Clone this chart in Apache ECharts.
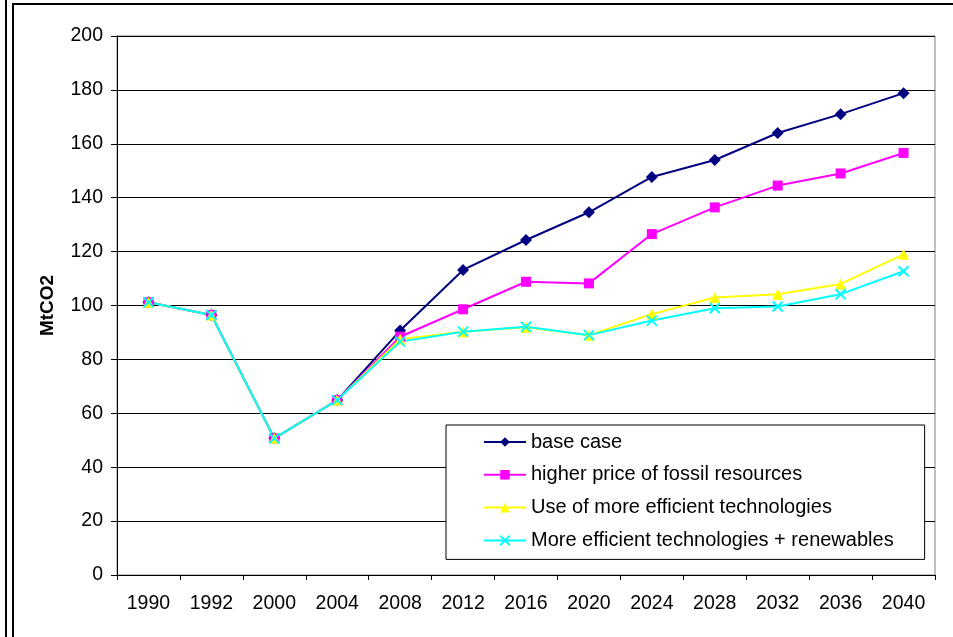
<!DOCTYPE html>
<html>
<head>
<meta charset="utf-8">
<style>
  html, body { margin: 0; padding: 0; background: #fff; }
  #chart { width: 953px; height: 637px; }
</style>
<script src="https://cdn.jsdelivr.net/npm/echarts@6/dist/echarts.min.js"></script>
</head>
<body>
<div id="chart"></div>
<script>
// Emission scenarios, MtCO2
const years = ['1990', '1992', '2000', '2004', '2008', '2012', '2016', '2020', '2024', '2028', '2032', '2036', '2040'];
const baseCase = [101.2, 96.5, 50.7, 64.9, 90.7, 113.2, 124.3, 134.6, 147.7, 154.0, 164.0, 171.0, 178.8];
const higherPrice = [101.2, 96.5, 50.7, 64.9, 88.4, 98.6, 108.8, 108.2, 126.5, 136.4, 144.5, 149.0, 156.6];
const efficientTech = [101.2, 96.5, 50.7, 64.9, 87.5, 90.3, 91.9, 89.0, 96.8, 103.0, 104.2, 108.0, 119.0];
const efficientRenew = [101.2, 96.5, 50.7, 64.9, 86.6, 90.3, 92.1, 89.0, 94.4, 99.0, 99.6, 104.2, 112.7];
const yTicks = { min: 0, max: 200, step: 20 };

const FONT = 'Liberation Sans, Arial, sans-serif';
const crossPath = 'path://M0,0L10,10M10,0L0,10';

const chart = echarts.init(document.getElementById('chart'), null, { renderer: 'canvas' });

function lineSeries(name, data, color, symbol, size, extra) {
  return Object.assign({
    name: name,
    type: 'line',
    data: data,
    symbol: symbol,
    symbolSize: size,
    showAllSymbol: true,
    animation: false,
    lineStyle: { color: color, width: 2 },
    itemStyle: { color: color },
    emphasis: { disabled: true }
  }, extra || {});
}

chart.setOption({
  backgroundColor: '#fff',
  animation: false,
  textStyle: { fontFamily: FONT },
  grid: {
    left: 117, right: 18, top: 36, bottom: 62,
    show: true, borderColor: '#808080', borderWidth: 1, backgroundColor: 'transparent'
  },
  legend: {
    orient: 'vertical',
    left: 446, top: 425,
    padding: [7, 31, 9, 37],
    itemGap: 12.8,
    itemWidth: 42, itemHeight: 12,
    backgroundColor: '#fff',
    borderColor: '#000', borderWidth: 1,
    textStyle: { fontFamily: FONT, fontSize: 20, lineHeight: 20, color: '#000' },
    data: ['base case', 'higher price of fossil resources', 'Use of more efficient technologies', 'More efficient technologies + renewables']
  },
  xAxis: {
    type: 'category',
    data: years,
    boundaryGap: true,
    axisLine: { lineStyle: { color: '#000', width: 1 } },
    axisTick: { show: true, alignWithLabel: false, length: 5, lineStyle: { color: '#000' } },
    axisLabel: { color: '#000', fontSize: 19.5, fontFamily: FONT, margin: 19, interval: 0 },
    splitLine: { show: false }
  },
  yAxis: {
    type: 'value',
    min: yTicks.min, max: yTicks.max, interval: yTicks.step,
    name: 'MtCO2',
    nameLocation: 'middle',
    nameGap: 60,
    nameRotate: 90,
    nameTextStyle: { color: '#000', fontSize: 19, fontWeight: 'bold', fontFamily: FONT },
    axisLine: { show: true, lineStyle: { color: '#000', width: 1 } },
    axisTick: { show: true, length: 6, lineStyle: { color: '#000' } },
    axisLabel: { color: '#000', fontSize: 19.5, fontFamily: FONT, margin: 14 },
    splitLine: { show: true, lineStyle: { color: '#000', width: 1 } }
  },
  series: [
    lineSeries('base case', baseCase, '#000080', 'diamond', 12),
    lineSeries('higher price of fossil resources', higherPrice, '#FF00FF', 'rect', 10),
    lineSeries('Use of more efficient technologies', efficientTech, '#FFFF00', 'triangle', 11),
    lineSeries('More efficient technologies + renewables', efficientRenew, '#00FFFF', crossPath, 10, {
      itemStyle: { color: '#00FFFF', borderColor: '#00FFFF', borderWidth: 2 }
    })
  ],
  graphic: [
    { type: 'line', silent: true, shape: { x1: 6, y1: 0, x2: 6, y2: 637 }, style: { stroke: '#000', lineWidth: 2 } },
    { type: 'polyline', silent: true, shape: { points: [[13, 637], [13, 4], [953, 4]] }, style: { stroke: '#000', lineWidth: 2, fill: null } }
  ]
});
</script>
</body>
</html>
